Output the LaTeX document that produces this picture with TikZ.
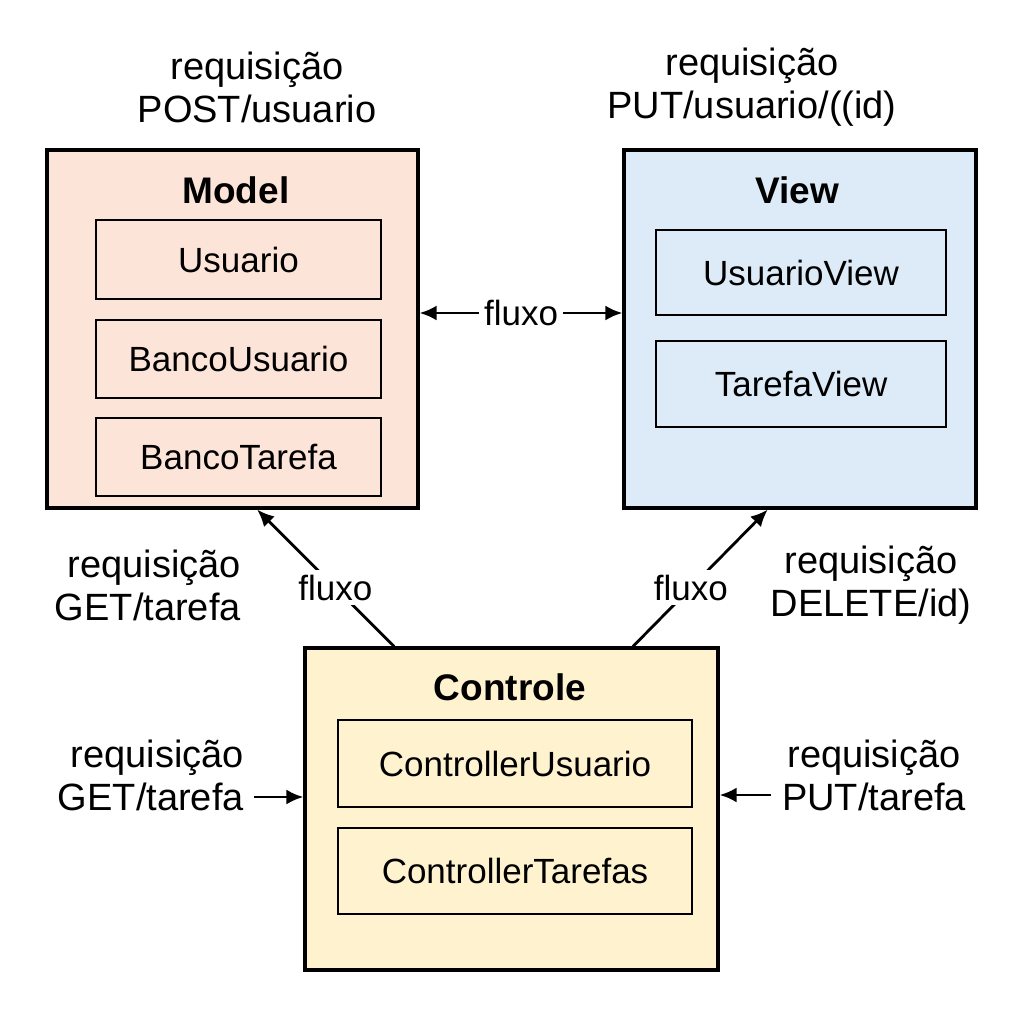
\documentclass[tikz,border=0pt]{standalone}
\usepackage{fontspec}
\setmainfont{Liberation Sans}
\usetikzlibrary{arrows.meta,calc}
\definecolor{modelfill}{HTML}{FDE4D8}
\definecolor{viewfill}{HTML}{DDEBF8}
\definecolor{ctrlfill}{HTML}{FEF2CF}
\begin{document}
\begin{tikzpicture}[x=1pt, y=-1pt,
  mvcbox/.style={draw, line width=3.2pt, inner sep=0pt},
  itembox/.style={draw, line width=2.6pt, inner sep=0pt, font=\fontsize{35}{42}\selectfont},
  boxtitle/.style={font=\fontsize{37}{42}\selectfont\bfseries},
  reqtext/.style={font=\fontsize{38}{43}\selectfont, inner sep=0pt},
  flowarrow/.style={line width=2.8pt, -{Latex[length=17pt,width=15pt]}},
  flowboth/.style={line width=2.8pt, {Latex[length=17pt,width=15pt]}-{Latex[length=17pt,width=15pt]}},
  flowlabel/.style={fill=white, inner sep=5pt, font=\fontsize{35}{42}\selectfont}]
  % \draw[help lines] (0,0) grid (1024,1024);
  \useasboundingbox (0,0) rectangle (1024,1024);

  \node[mvcbox, fill=modelfill, minimum width=371pt, minimum height=358pt] (model) at (232.5,329) {};
  \node[boxtitle] (modeltitle) at (236,190) {Model};
  \node[itembox, minimum width=285pt, minimum height=79pt] (usuario) at (238.5,259.5) {Usuario};
  \node[itembox, minimum width=285pt, minimum height=78pt] (bancousuario) at (238.5,359) {BancoUsuario};
  \node[itembox, minimum width=285pt, minimum height=78pt] (bancotarefa) at (238.5,457) {BancoTarefa};

  \node[mvcbox, fill=viewfill, minimum width=352pt, minimum height=358pt] (view) at (800,329) {};
  \node[boxtitle] (viewtitle) at (797,190) {View};
  \node[itembox, minimum width=290pt, minimum height=85pt] (usuarioview) at (801,272.5) {UsuarioView};
  \node[itembox, minimum width=290pt, minimum height=86pt] (tarefaview) at (801,384) {TarefaView};

  \node[mvcbox, fill=ctrlfill, minimum width=413pt, minimum height=322pt] (ctrl) at (511.5,809) {};
  \node[boxtitle] (ctrltitle) at (510,687) {Controle};
  \node[itembox, minimum width=354pt, minimum height=87pt] (ctrlusuario) at (515,763.5) {ControllerUsuario};
  \node[itembox, minimum width=354pt, minimum height=86pt] (ctrltarefas) at (515,871) {ControllerTarefas};

  \draw[flowboth] ($(model.east)+(0,-16)$) -- ($(view.west)+(0,-16)$) node[flowlabel, midway] (fluxomv) {fluxo};
  \draw[flowarrow] ($(ctrl.north west)!0.218!(ctrl.north east)$) -- ($(model.south west)!0.566!(model.south east)$) node[flowlabel, pos=0.43] (fluxocm) {fluxo};
  \draw[flowarrow] ($(ctrl.north west)!0.792!(ctrl.north east)$) -- ($(view.south west)!0.409!(view.south east)$) node[flowlabel, pos=0.43] (fluxocv) {fluxo};

  \node[reqtext, align=center] (reqpost) at (257,87) {requisição\\POST/usuario};
  \node[reqtext, align=center] (reqput) at (752,87) {requisição\\PUT/usuario/((id)};
  \node[reqtext, align=right, anchor=east] (reqgettop) at (241,585) {requisição\\GET/tarefa};
  \node[reqtext, align=center] (reqdelete) at (871,585) {requisição\\DELETE/id)};
  \node[reqtext, align=right, anchor=east] (reqget) at (244,775) {requisição\\GET/tarefa};
  \node[reqtext, align=center] (reqputtarefa) at (874,775) {requisição\\PUT/tarefa};

  \coordinate (getin) at (254,797);
  \coordinate (putin) at (771,795);
  \draw[flowarrow] (getin) -- (ctrl.west |- getin);
  \draw[flowarrow] (putin) -- (ctrl.east |- putin);
\end{tikzpicture}
\end{document}
